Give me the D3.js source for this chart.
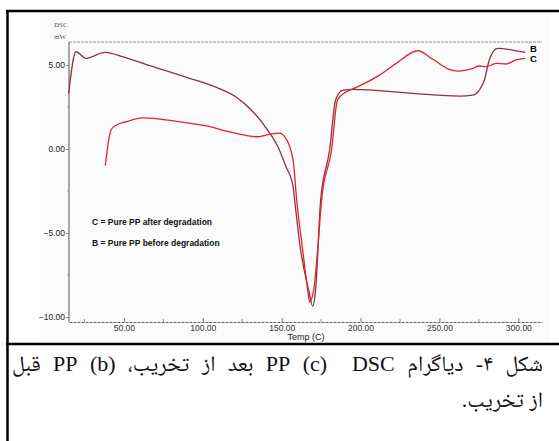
<!DOCTYPE html>
<html>
<head>
<meta charset="utf-8">
<script src="https://cdn.jsdelivr.net/npm/d3@7"></script>
<style>
  body { margin: 0; background: #fff; }
  #wrap { position: relative; width: 559px; height: 441px; overflow: hidden; }
  .cap { position: absolute; direction: rtl; font-family: "Liberation Serif", "Noto Naskh Arabic", "DejaVu Sans", serif; font-size: 22px; color: #111; white-space: nowrap; }
  .cap.full { width: 531px; text-align: justify; text-align-last: justify; }
</style>
</head>
<body>
<div id="wrap"></div>
<script>
// DSC curves (temp in C, heat flow in mW)
const bTemp = [15.0, 19.6, 25.9, 38.0, 49.6, 66.5, 89.7, 108.7, 121.3, 131.8, 140.3, 148.3, 152.5, 157.2, 158.2, 162.0, 167.1, 169.6, 171.5, 174.7, 180.4, 184.2, 188.8, 195.1, 233.1, 262.7, 271.1, 275.3, 278.5, 281.6, 286.9, 296.4, 304.4];
const bDsc  = [3.31, 5.79, 5.40, 5.75, 5.49, 4.96, 4.27, 3.67, 3.08, 2.22, 1.23, 0.00, -1.0, -2.24, -3.04, -6.01, -8.39, -9.35, -8.39, -3.04, -0.06, 2.92, 3.51, 3.55, 3.31, 3.15, 3.21, 3.51, 4.11, 5.30, 5.99, 5.89, 5.75];

const cTemp = [38.2, 41.8, 44.3, 51.7, 62.2, 83.3, 102.3, 119.2, 135.0, 142.4, 148.7, 151.9, 157.2, 159.5, 163.3, 166.5, 167.7, 170.3, 172.8, 175.3, 181.6, 185.4, 191.1, 197.3, 212.0, 222.6, 236.3, 245.8, 256.3, 261.6, 271.1, 275.3, 279.6, 285.9, 292.2, 298.5, 304.4];
const cDsc  = [-0.99, 1.13, 1.37, 1.63, 1.85, 1.65, 1.37, 0.97, 0.73, 0.89, 0.95, 0.73, -0.65, -3.04, -6.01, -8.39, -9.11, -8.39, -6.01, -3.04, -0.06, 2.92, 3.41, 3.67, 4.40, 5.10, 5.85, 5.34, 4.74, 4.64, 4.80, 4.94, 4.90, 5.10, 5.06, 5.30, 5.40];

const xTicks = [50, 100, 150, 200, 250, 300];
const xMinor = [25, 75, 125, 175, 225, 275];
const yTicks = [5, 0, -5, -10];
const yMinor = [2.5, -2.5, -7.5];

const legendLines = ["C = Pure PP after degradation", "B = Pure PP before degradation"];

const w = 559;
const h = 441;

const svg = d3.select('#wrap')
    .append('svg')
    .attr('width', w)
    .attr('height', h)
    .style('position', 'absolute')
    .style('left', 0)
    .style('top', 0);

// faint scan background of the plot
svg.append('rect')
    .attr('x', 40).attr('y', 12).attr('width', 510).attr('height', 330)
    .attr('fill', '#fbfbfb');

const xScale = d3.scaleLinear()
    .domain([15.2, 315])
    .range([69, 542]);

const yScale = d3.scaleLinear()
    .domain([-10.3, 6.37])
    .range([322, 42]);

// top frame line (dashed, grey)
svg.append('line')
    .attr('x1', 69).attr('x2', 542).attr('y1', 42).attr('y2', 42)
    .attr('stroke', '#777').attr('stroke-width', 0.8)
    .attr('stroke-dasharray', '3,1');

// x axis
const xAxis = d3.axisBottom(xScale)
    .tickValues(xTicks)
    .tickFormat(d3.format('.2f'))
    .tickSizeInner(-4)
    .tickSizeOuter(0)
    .tickPadding(3);

const gx = svg.append('g')
    .attr('id', 'x-axis')
    .attr('transform', 'translate(0, 322)')
    .call(xAxis);
gx.select('.domain').attr('stroke', '#666').attr('stroke-dasharray', '3,1');
gx.selectAll('.tick line').attr('stroke', '#777');
gx.selectAll('text').attr('font-family', 'Liberation Sans, Arial, sans-serif').attr('font-size', 8.5).attr('fill', '#333');

svg.append('g')
    .attr('transform', 'translate(0, 322)')
    .selectAll('line')
    .data(xMinor)
    .join('line')
    .attr('x1', d => xScale(d)).attr('x2', d => xScale(d))
    .attr('y1', 0).attr('y2', -3)
    .attr('stroke', '#888');

// y axis
const yAxis = d3.axisLeft(yScale)
    .tickValues(yTicks)
    .tickFormat(d3.format('.2f'))
    .tickSizeInner(3)
    .tickSizeOuter(0)
    .tickPadding(1);

const gy = svg.append('g')
    .attr('id', 'y-axis')
    .attr('transform', 'translate(69, 0)')
    .call(yAxis);
gy.select('.domain').attr('stroke', '#555').attr('d', 'M0,42V322');
gy.selectAll('.tick line').attr('stroke', '#888');
gy.selectAll('text').attr('font-family', 'Liberation Sans, Arial, sans-serif').attr('font-size', 8.5).attr('fill', '#222');

svg.append('g')
    .attr('transform', 'translate(69, 0)')
    .selectAll('line')
    .data(yMinor)
    .join('line')
    .attr('x1', 0).attr('x2', -2)
    .attr('y1', d => yScale(d)).attr('y2', d => yScale(d))
    .attr('stroke', '#999');

// unit labels
svg.append('text').attr('x', 54).attr('y', 27).text('DSC')
    .attr('font-family', 'Liberation Serif, serif').attr('font-size', 7).attr('fill', '#555');
svg.append('text').attr('x', 54).attr('y', 39).text('mW')
    .attr('font-family', 'Liberation Serif, serif').attr('font-size', 7).attr('fill', '#555');

svg.append('text').attr('x', 306).attr('y', 340).text('Temp  (C)')
    .attr('text-anchor', 'middle')
    .attr('font-family', 'Liberation Sans, Arial, sans-serif').attr('font-size', 9).attr('fill', '#222');

// curves
const line = d3.line()
    .x(d => xScale(d[0]))
    .y(d => yScale(d[1]))
    .curve(d3.curveMonotoneX);

svg.append('path')
    .datum(d3.zip(bTemp, bDsc))
    .attr('d', line)
    .attr('fill', 'none')
    .attr('stroke', '#8a3340')
    .attr('stroke-width', 1.3);

svg.append('path')
    .datum(d3.zip(cTemp, cDsc))
    .attr('d', line)
    .attr('fill', 'none')
    .attr('stroke', '#e5212f')
    .attr('stroke-width', 1.3);

// end labels
svg.append('text').attr('x', 530).attr('y', 52).text('B')
    .attr('font-family', 'Liberation Sans, Arial, sans-serif').attr('font-weight', 'bold').attr('font-size', 9.5);
svg.append('text').attr('x', 530).attr('y', 62).text('C')
    .attr('font-family', 'Liberation Sans, Arial, sans-serif').attr('font-weight', 'bold').attr('font-size', 9.5);

// legend text
svg.append('g')
    .selectAll('text')
    .data(legendLines)
    .join('text')
    .attr('x', 92)
    .attr('y', (d, i) => 225 + i * 21)
    .text(d => d)
    .attr('font-family', 'Liberation Sans, Arial, sans-serif')
    .attr('font-weight', 'bold')
    .attr('font-size', 8.5)
    .attr('fill', '#111');

// frame of the figure box
svg.append('line').attr('x1', 6).attr('x2', 559).attr('y1', 11).attr('y2', 11)
    .attr('stroke', '#000').attr('stroke-width', 2.5);
svg.append('line').attr('x1', 7.5).attr('x2', 7.5).attr('y1', 10).attr('y2', 441)
    .attr('stroke', '#000').attr('stroke-width', 2.5);
svg.append('line').attr('x1', 6).attr('x2', 559).attr('y1', 344).attr('y2', 344)
    .attr('stroke', '#000').attr('stroke-width', 2.5);

// Persian caption
const wrap = d3.select('#wrap');
wrap.append('div')
    .attr('class', 'cap full')
    .style('right', '16px')
    .style('top', '347px')
    .text('شکل ۴- دیاگرام DSC\u200F \u200F \u200F(c)\u200F PP بعد از تخریب، (b)\u200F PP قبل');
wrap.append('div')
    .attr('class', 'cap')
    .style('right', '16px')
    .style('top', '383px')
    .text('از تخریب.');
</script>
</body>
</html>
